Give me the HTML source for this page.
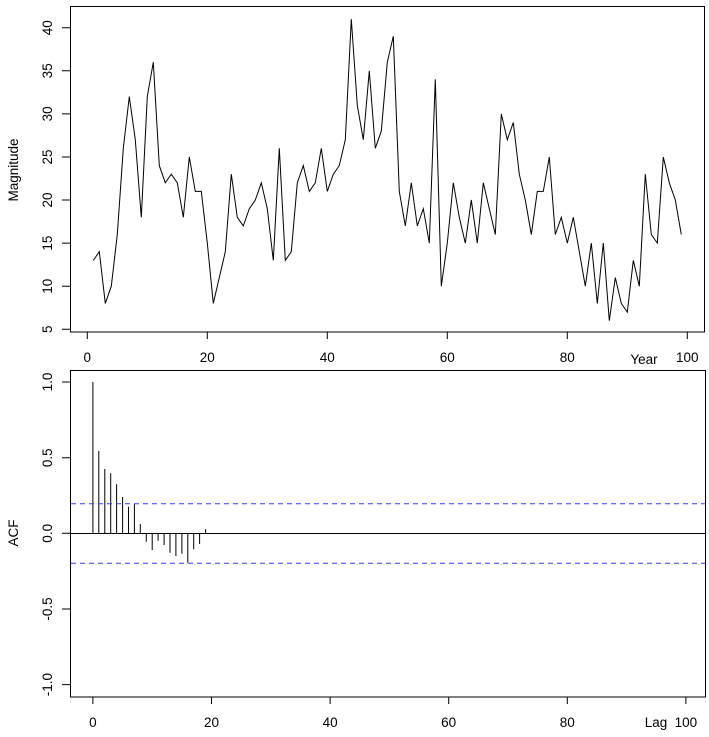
<!DOCTYPE html>
<html><head><meta charset="utf-8"><style>
html,body{margin:0;padding:0;background:#fff;}
svg{display:block;}
text{font-family:"Liberation Sans",Arial,sans-serif;font-size:13.5px;fill:#000;}
</style></head><body>
<svg width="709" height="737" viewBox="0 0 709 737" xmlns="http://www.w3.org/2000/svg">
<g fill="none" stroke="#000" stroke-width="1">
<rect x="70.5" y="6.5" width="634" height="325.5"/>
<polyline points="93.3,260.4 99.3,251.7 105.3,303.4 111.3,286.2 117.3,234.5 123.3,148.3 129.3,96.6 135.3,139.7 141.3,217.3 147.3,96.6 153.3,62.2 159.3,165.6 165.3,182.8 171.3,174.2 177.3,182.8 183.3,217.3 189.3,157.0 195.3,191.4 201.3,191.4 207.3,243.1 213.3,303.4 219.3,277.6 225.3,251.7 231.3,174.2 237.3,217.3 243.3,225.9 249.3,208.7 255.3,200.0 261.3,182.8 267.3,208.7 273.3,260.4 279.3,148.3 285.3,260.4 291.3,251.7 297.3,182.8 303.3,165.6 309.3,191.4 315.3,182.8 321.3,148.3 327.3,191.4 333.3,174.2 339.3,165.6 345.3,139.7 351.3,19.1 357.3,105.3 363.3,139.7 369.3,70.8 375.3,148.3 381.3,131.1 387.3,62.2 393.3,36.3 399.3,191.4 405.3,225.9 411.3,182.8 417.3,225.9 423.3,208.7 429.3,243.1 435.3,79.4 441.3,286.2 447.3,243.1 453.3,182.8 459.3,217.3 465.3,243.1 471.3,200.0 477.3,243.1 483.3,182.8 489.3,208.7 495.3,234.5 501.3,113.9 507.3,139.7 513.3,122.5 519.3,174.2 525.3,200.0 531.3,234.5 537.3,191.4 543.3,191.4 549.3,157.0 555.3,234.5 561.3,217.3 567.3,243.1 573.3,217.3 579.3,251.7 585.3,286.2 591.3,243.1 597.3,303.4 603.3,243.1 609.3,320.7 615.3,277.6 621.3,303.4 627.3,312.1 633.3,260.4 639.3,286.2 645.3,174.2 651.3,234.5 657.3,243.1 663.3,157.0 669.3,182.8 675.3,200.0 681.3,234.5"/>
<path d="M87.3,332V339M207.3,332V339M327.3,332V339M447.3,332V339M567.3,332V339M687.3,332V339"/>
<path d="M62,329.3H70M62,286.2H70M62,243.1H70M62,200H70M62,157H70M62,113.9H70M62,70.8H70M62,27.7H70"/>
<rect x="70.5" y="370.5" width="635" height="326.5"/>
<path d="M70.5,533.5H705.5"/>
<path d="M92.9,533.5V382M98.8,533.5V451M104.8,533.5V469M110.7,533.5V473.3M116.6,533.5V484.3M122.6,533.5V497M128.5,533.5V506.7M134.4,533.5V504M140.3,533.5V524M146.3,533.5V541.7M152.2,533.5V550M158.1,533.5V540.7M164.1,533.5V545M170,533.5V552.7M175.9,533.5V556M181.9,533.5V553.7M187.8,533.5V562.7M193.7,533.5V549.3M199.6,533.5V544M205.6,533.5V529.3"/>
<path d="M92.9,697V704M211.5,697V704M330.1,697V704M448.7,697V704M567.3,697V704M685.9,697V704"/>
<path d="M62,382H70M62,457.7H70M62,533.3H70M62,609H70M62,684.6H70"/>
</g>
<path d="M71,503.7H705M71,563.3H705" stroke="#3b3bf5" stroke-dasharray="5,4" fill="none"/>
<g text-anchor="middle">
<text x="87.3" y="362">0</text><text x="207.3" y="362">20</text><text x="327.3" y="362">40</text><text x="447.3" y="362">60</text><text x="567.3" y="362">80</text><text x="687.3" y="362">100</text>
<text x="644" y="364">Year</text>
<text transform="translate(52,329.3) rotate(-90)">5</text>
<text transform="translate(52,286.2) rotate(-90)">10</text>
<text transform="translate(52,243.1) rotate(-90)">15</text>
<text transform="translate(52,200) rotate(-90)">20</text>
<text transform="translate(52,157) rotate(-90)">25</text>
<text transform="translate(52,113.9) rotate(-90)">30</text>
<text transform="translate(52,70.8) rotate(-90)">35</text>
<text transform="translate(52,27.7) rotate(-90)">40</text>
<text transform="translate(18,170) rotate(-90)">Magnitude</text>
<text x="92.9" y="727">0</text><text x="211.5" y="727">20</text><text x="330.1" y="727">40</text><text x="448.7" y="727">60</text><text x="567.3" y="727">80</text><text x="685.9" y="727">100</text>
<text x="656" y="727">Lag</text>
<text transform="translate(52,382) rotate(-90)">1.0</text>
<text transform="translate(52,457.7) rotate(-90)">0.5</text>
<text transform="translate(52,533.3) rotate(-90)">0.0</text>
<text transform="translate(52,609) rotate(-90)">-0.5</text>
<text transform="translate(52,684.6) rotate(-90)">-1.0</text>
<text transform="translate(18,533) rotate(-90)">ACF</text>
</g>
</svg>
</body></html>
